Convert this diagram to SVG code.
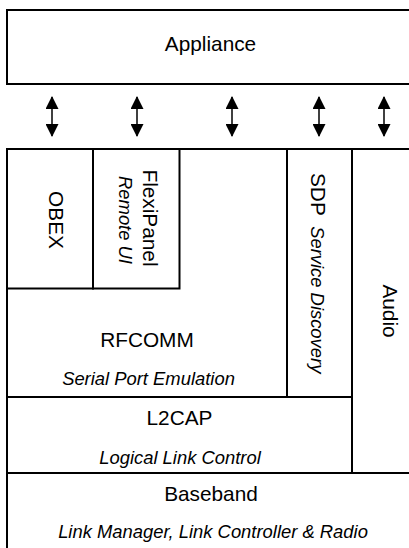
<svg xmlns="http://www.w3.org/2000/svg" width="409" height="548" viewBox="0 0 409 548">
<defs>
<style>
.box{fill:#fff;stroke:#000;stroke-width:2}
.ln{fill:none;stroke:#000;stroke-width:2}
.t{font-family:"Liberation Sans",Arial,sans-serif;font-size:20.8px;fill:#000}
.i{font-family:"Liberation Sans",Arial,sans-serif;font-size:18.4px;font-style:italic;fill:#000}
.c{text-anchor:middle}
.sh{stroke:#000;stroke-width:1.5;fill:none}
</style>
<marker id="ah" viewBox="0 0 13 13" refX="12" refY="6.5" markerWidth="13" markerHeight="13" markerUnits="userSpaceOnUse" orient="auto-start-reverse">
<path d="M0,0 L13,6.5 L0,13 Z" fill="#000"/>
</marker>
</defs>
<rect width="409" height="548" fill="#fff"/>
<g id="appliance">
<rect class="box" x="7" y="10" width="420" height="74"/>
<text class="t c" x="210.5" y="51">Appliance</text>
</g>
<g id="connectors">
<line class="sh" x1="52" y1="97" x2="52" y2="136" marker-start="url(#ah)" marker-end="url(#ah)"/>
<line class="sh" x1="137" y1="97" x2="137" y2="136" marker-start="url(#ah)" marker-end="url(#ah)"/>
<line class="sh" x1="232" y1="97" x2="232" y2="136" marker-start="url(#ah)" marker-end="url(#ah)"/>
<line class="sh" x1="319" y1="97" x2="319" y2="136" marker-start="url(#ah)" marker-end="url(#ah)"/>
<line class="sh" x1="384" y1="97" x2="384" y2="136" marker-start="url(#ah)" marker-end="url(#ah)"/>
</g>
<g id="rfcomm">
<path class="ln" d="M7,397 L7,149 L287,149 L287,397 Z"/>
<text class="t c" x="147" y="347">RFCOMM</text>
<text class="i c" x="148.5" y="385">Serial Port Emulation</text>
</g>
<g id="obex">
<rect class="box" x="7" y="149" width="86" height="139.5"/>
<text class="t c" transform="translate(49,220) rotate(90)">OBEX</text>
</g>
<g id="flexipanel">
<rect class="box" x="93" y="149" width="86.5" height="139.5"/>
<text class="t c" transform="translate(143,218) rotate(90)">FlexiPanel</text>
<text class="i c" transform="translate(119,220) rotate(90)">Remote UI</text>
</g>
<g id="sdp">
<rect class="box" x="287" y="149" width="65" height="248"/>
<text class="t" transform="translate(311,173) rotate(90)">SDP <tspan class="i" dx="5">Service Discovery</tspan></text>
</g>
<g id="audio">
<rect class="box" x="352" y="149" width="70" height="324"/>
<text class="t c" transform="translate(383,311) rotate(90)">Audio</text>
</g>
<g id="l2cap">
<rect class="box" x="7" y="397" width="345" height="76"/>
<text class="t c" x="179.5" y="425">L2CAP</text>
<text class="i c" x="180" y="464">Logical Link Control</text>
</g>
<g id="baseband">
<rect class="box" x="7" y="473" width="420" height="90"/>
<text class="t c" x="211" y="501">Baseband</text>
<text class="i c" x="213" y="538">Link Manager, Link Controller &amp; Radio</text>
</g>
</svg>
